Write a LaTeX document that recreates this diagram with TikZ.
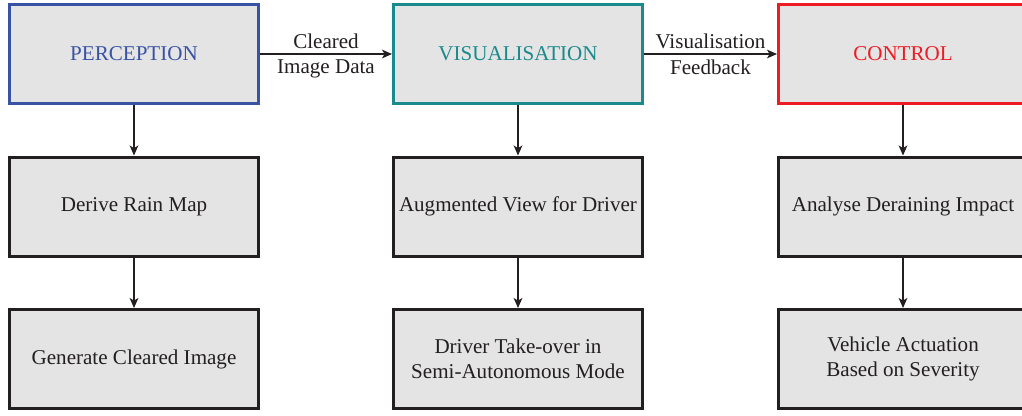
\documentclass[tikz,border=0pt]{standalone}
\usepackage{fontspec}
\setmainfont{Liberation Serif}
\usetikzlibrary{arrows.meta}
\definecolor{boxfill}{HTML}{E4E4E4}
\definecolor{ink}{HTML}{231F20}
\definecolor{pblue}{HTML}{3953A4}
\definecolor{vteal}{HTML}{1B8A8C}
\definecolor{cred}{HTML}{ED1C24}
\tikzset{
  stagebox/.style={draw=ink, fill=boxfill, line width=2.25pt, minimum width=186.75pt, minimum height=74.25pt, inner sep=0pt, align=center, text=ink, font=\fontsize{15.8}{19}\selectfont},
  conn/.style={draw=ink, line width=1.5pt, -{Stealth[length=7.5pt,width=6.5pt,inset=2pt]}},
  lbl/.style={text=ink, font=\fontsize{15.8}{19}\selectfont, inner sep=3.5pt, align=center}
}
\begin{document}
\begin{tikzpicture}[x=0.75pt,y=-0.75pt]
\useasboundingbox (0,0) rectangle (1022,415);
\clip (0,0) rectangle (1022,415);
\node[stagebox, draw=pblue, text=pblue] (per) at (134,54) {PERCEPTION};
\node[stagebox, draw=vteal, text=vteal] (vis) at (518,54) {VISUALISATION};
\node[stagebox, draw=cred, text=cred] (con) at (903,54) {CONTROL};
\node[stagebox] (rain) at (134,206.5) {Derive Rain Map};
\node[stagebox] (aug) at (518,206.5) {Augmented View for Driver};
\node[stagebox] (ana) at (903,206.5) {Analyse Deraining Impact};
\node[stagebox] (gen) at (134,359) {Generate Cleared Image};
\node[stagebox] (take) at (518,359) {Driver Take-over in\\Semi-Autonomous Mode};
\node[stagebox] (veh) at (903,359) {Vehicle Actuation\\Based on Severity};
\draw[conn] (per.east) -- node[lbl, above] {Cleared} node[lbl, below] {Image Data} (vis.west);
\draw[conn] (vis.east) -- node[lbl, above] {Visualisation} node[lbl, below] {Feedback} (con.west);
\draw[conn] (per) -- (rain);
\draw[conn] (rain) -- (gen);
\draw[conn] (vis) -- (aug);
\draw[conn] (aug) -- (take);
\draw[conn] (con) -- (ana);
\draw[conn] (ana) -- (veh);
\end{tikzpicture}
\end{document}
